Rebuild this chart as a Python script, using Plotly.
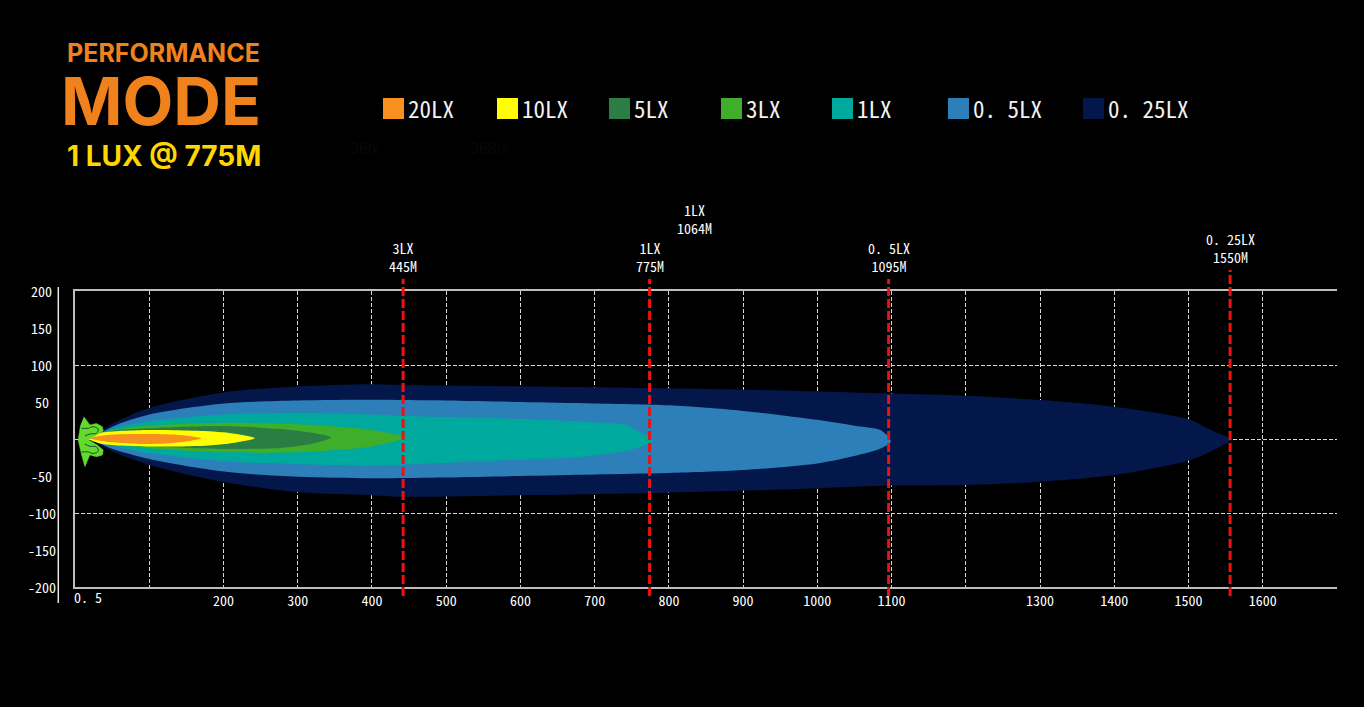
import plotly.graph_objects as go

# ---------------- data ----------------
levels = ["20LX", "10LX", "5LX", "3LX", "1LX", "0. 5LX", "0. 25LX"]
level_colors = ["#F7901E", "#FFFF00", "#2A7E43", "#3EAE2B", "#00A99D", "#2C7FB8", "#03174A"]

# isolux contours: distance (m), upper / lower half-width (m)
x_20 = [20, 42.5, 100, 141, 170]
up_20 = [1, 5.4, 6.8, 5.4, 1]
lo_20 = [1, -3.6, -6.8, -4.5, 1]

x_10 = [18, 33.5, 100, 164, 208, 242]
up_10 = [1, 8, 12, 11, 8, 1]
lo_10 = [1, -6, -10, -9.5, -6, 1]

x_5 = [25, 51, 100, 200, 276, 321, 345]
up_5 = [2, 11, 14.5, 17.6, 13.5, 8, 2]
lo_5 = [-2, -5, -9.5, -13.5, -12, -6, 2]

x_3 = [25, 51, 100, 200, 300, 350, 400, 444]
up_3 = [2, 12, 18, 22, 20, 17, 12, 2]
lo_3 = [-2, -6, -12.6, -18, -18, -15, -10, 2]

x_1 = [25, 51, 100, 200, 300, 400, 445, 572, 684, 743, 760, 778]
up_1 = [2, 14, 24, 33, 35.5, 33, 31, 28, 23.4, 19, 10, -2.7]
lo_1 = [-2, -9, -19, -30, -34, -36, -34.5, -29, -24, -16, -11, -2.7]

x_05 = [25, 51, 100, 200, 300, 400, 500, 600, 700, 800, 900, 1000, 1050, 1085, 1099]
up_05 = [2, 17, 33, 48, 52, 53, 52, 50, 48, 45.5, 38, 26, 18, 12, -3]
lo_05 = [-2, -13.5, -27, -44, -51, -53, -52, -50, -48, -46, -42, -33, -23, -13, -3]

x_025 = [25, 51, 100, 200, 300, 400, 437, 617, 796, 976, 1100, 1200, 1300, 1400, 1500, 1532, 1556]
up_025 = [3, 21, 42, 63, 71, 74, 73, 71, 68.5, 65, 61.5, 58.5, 52.7, 43.7, 26.6, 11, -1]
lo_025 = [-3, -17, -35, -58, -72, -76, -78, -75.7, -72.5, -67.6, -63, -62, -57.7, -48.6, -29, -15.8, -1]

contours = [
    (x_20, up_20, lo_20),
    (x_10, up_10, lo_10),
    (x_5, up_5, lo_5),
    (x_3, up_3, lo_3),
    (x_1, up_1, lo_1),
    (x_05, up_05, lo_05),
    (x_025, up_025, lo_025),
]

# lamp outline (m)
lamp_x = [12, 15.6, 20, 29, 37, 38, 30, 18, 30, 38, 37, 29, 20, 15.6, 13.3, 8.9, 4.3, 7.5]
lamp_y = [30, 25.7, 19, 21, 16.6, 10.8, 6, -1, -8, -15, -21.6, -24, -21.6, -30.7, -37.4, -21.6, -1.4, 19]
lamp_line_top_x = [8.9, 17.8, 24.5, 31.2, 29, 20, 13.3]
lamp_line_top_y = [14.5, 14.5, 16.6, 13.5, 7.7, 6.8, 4]
lamp_line_bot_x = [8.9, 17.8, 24.5, 31.2, 29, 20, 13.3]
lamp_line_bot_y = [-17.5, -17.5, -19.6, -16.5, -10.7, -9.8, -7]

# distance markers
marker_x = [442, 774, 1096, 1556]
marker_lux = ["3LX", "1LX", "0. 5LX", "0. 25LX"]
marker_dist = ["445M", "775M", "1095M", "1550M"]
extra_label_x = 834
extra_label = ["1LX", "1064M"]

# axes
x_tick_vals = list(range(0, 1701, 100))
x_tick_text = ["", "", "200", "300", "400", "500", "600", "700", "800", "900", "1000",
               "1100", "", "1300", "1400", "1500", "1600", ""]
x_first_label = "0. 5"
y_grid_vals = [-100, 0, 100]
y_label_vals = [200, 150, 100, 50, -50, -100, -150, -200]

# ---------------- layout helpers ----------------
W, H = 1364, 707
L, R, T, B = 75, 27, 291, 120
PW, PH = W - L - R, H - T - B


def px_x(px):
    return (px - L) / PW


def px_y(py):
    return (H - B - py) / PH


MONO = "Noto Sans Mono CJK SC, DejaVu Sans Mono, monospace"
TITLE = "Inter, Lato, Noto Sans, sans-serif"

fig = go.Figure()

# beams (outermost first)
for (xs, up, lo), name, col in reversed(list(zip(contours, levels, level_colors))):
    px_ = list(xs) + list(xs[-2::-1])
    py_ = list(up) + list(lo[-2::-1])
    fig.add_trace(go.Scatter(
        x=px_, y=py_, mode="lines", fill="toself", fillcolor=col,
        line=dict(width=0, color=col, shape="spline", smoothing=0.8),
        name=name, showlegend=False, hoverinfo="skip"))

# lamp
fig.add_trace(go.Scatter(x=lamp_x, y=lamp_y, mode="lines", fill="toself",
                         fillcolor="#63DA2C", line=dict(width=0.5, color="#63DA2C"),
                         showlegend=False, hoverinfo="skip"))
for lx, ly in [(lamp_line_top_x, lamp_line_top_y), (lamp_line_bot_x, lamp_line_bot_y)]:
    fig.add_trace(go.Scatter(x=lx, y=ly, mode="lines",
                             line=dict(width=1, color="#1E4A3A", shape="spline"),
                             showlegend=False, hoverinfo="skip"))

shapes = []
annotations = []

# left detached axis line
shapes.append(dict(type="line", xref="paper", yref="paper", x0=px_x(58.3), x1=px_x(58.3),
                   y0=px_y(603), y1=px_y(287), line=dict(color="#E6E6E6", width=1.5)))

# red distance markers
for i, (mx, lux, dist) in enumerate(zip(marker_x, marker_lux, marker_dist)):
    top = 270 if i == 3 else 279
    shapes.append(dict(type="line", xref="x", yref="paper", x0=mx, x1=mx,
                       y0=px_y(596), y1=px_y(top), layer="above",
                       line=dict(color="#F01010", width=3, dash="9px,3px")))
    annotations.append(dict(x=mx, xref="x", y=px_y(top - 1), yref="paper",
                            text=lux + "<br>" + dist,
                            showarrow=False, xanchor="center", yanchor="bottom",
                            font=dict(family=MONO, size=14, color="#FFFFFF")))

annotations.append(dict(x=extra_label_x, xref="x", y=px_y(240), yref="paper",
                        text=extra_label[0] + "<br>" + extra_label[1],
                        showarrow=False, xanchor="center", yanchor="bottom",
                        font=dict(family=MONO, size=14, color="#FFFFFF")))

# y labels (centered)
for v in y_label_vals:
    annotations.append(dict(x=px_x(41.5), xref="paper", y=v, yref="y", text=str(v),
                            showarrow=False, xanchor="center", yanchor="middle",
                            font=dict(family=MONO, size=14, color="#FFFFFF")))
annotations.append(dict(x=0, xref="x", y=px_y(597), yref="paper", text=x_first_label,
                        showarrow=False, xanchor="left", yanchor="middle", xshift=-3,
                        font=dict(family=MONO, size=14, color="#FFFFFF")))

# legend (manual)
legend_px = [383, 497, 609, 721, 832, 948, 1083]
for lp, name, col in zip(legend_px, levels, level_colors):
    shapes.append(dict(type="rect", xref="paper", yref="paper",
                       x0=px_x(lp), x1=px_x(lp + 21), y0=px_y(119), y1=px_y(98),
                       fillcolor=col, line=dict(width=0)))
    annotations.append(dict(x=px_x(lp + 23), xref="paper", y=px_y(108), yref="paper", text=name,
                            showarrow=False, xanchor="left", yanchor="middle",
                            font=dict(family=MONO, size=23, color="#F2F2F2")))

# faint ghost text
annotations.append(dict(x=px_x(348), xref="paper", y=px_y(148), yref="paper", text="36lx",
                        showarrow=False, xanchor="left", yanchor="middle",
                        font=dict(family="Liberation Sans", size=16, color="#080808")))
annotations.append(dict(x=px_x(468), xref="paper", y=px_y(148), yref="paper", text="368lx",
                        showarrow=False, xanchor="left", yanchor="middle",
                        font=dict(family="Liberation Sans", size=16, color="#080808")))

# titles
annotations.append(dict(x=px_x(65), xref="paper", y=px_y(53), yref="paper", text="<b>PERFORMANCE</b>",
                        showarrow=False, xanchor="left", yanchor="middle",
                        font=dict(family=TITLE, size=25, color="#F0821E", weight=800)))
annotations.append(dict(x=px_x(59), xref="paper", y=px_y(101), yref="paper", text="<b>MODE</b>",
                        showarrow=False, xanchor="left", yanchor="middle",
                        font=dict(family=TITLE, size=66, color="#F0821E", weight=800)))
annotations.append(dict(x=px_x(65), xref="paper", y=px_y(156), yref="paper", text="<b>1 LUX @ 775M</b>",
                        showarrow=False, xanchor="left", yanchor="middle",
                        font=dict(family=TITLE, size=28, color="#FFD700", weight=800)))

fig.update_layout(
    width=W, height=H,
    margin=dict(l=L, r=R, t=T, b=B, pad=0),
    paper_bgcolor="#000000", plot_bgcolor="#000000",
    showlegend=False,
    shapes=shapes, annotations=annotations,
    xaxis=dict(range=[0, 1700], tickvals=x_tick_vals, ticktext=x_tick_text,
               showgrid=True, gridcolor="#D6D6D6", gridwidth=1, griddash="4px,2px",
               zeroline=False, showline=True, linecolor="#BEBEBE", linewidth=2, mirror=True,
               ticks="", tickfont=dict(family=MONO, size=14, color="#FFFFFF"),
               fixedrange=True),
    yaxis=dict(range=[-200, 200], tickvals=y_grid_vals, showticklabels=False,
               showgrid=True, gridcolor="#D6D6D6", gridwidth=1, griddash="4px,2px",
               zeroline=False, showline=True, linecolor="#BEBEBE", linewidth=2, mirror=False,
               ticks="", fixedrange=True),
)

fig.write_html("out.html", config={"displayModeBar": False},
               post_script="document.body.style.margin='0';document.body.style.background='#000';")
